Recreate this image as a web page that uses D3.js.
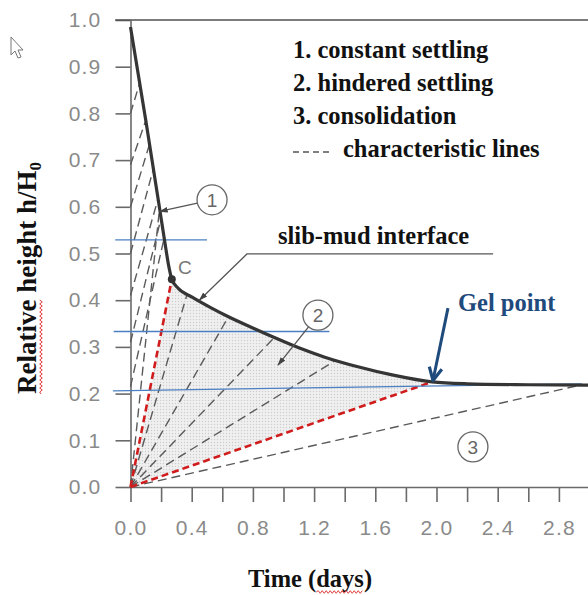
<!DOCTYPE html>
<html>
<head>
<meta charset="utf-8">
<script src="https://cdn.jsdelivr.net/npm/d3@7"></script>
<style>
	html, body { margin: 0; padding: 0; background: #fff; }
	svg { display: block; }
</style>
</head>
<body>
<div id="chart"></div>
<script>
// settling curve, relative height h/H0 against time in days
const curveT = [0, 0.10, 0.19, 0.225, 0.25, 0.27, 0.31, 0.40, 0.53, 0.64, 0.81, 0.94, 1.10, 1.27, 1.48, 1.71, 1.97, 2.2, 2.6, 3.0];
const curveH = [0.985, 0.785, 0.597, 0.523, 0.473, 0.445, 0.426, 0.407, 0.383, 0.3645, 0.339, 0.320, 0.298, 0.278, 0.258, 0.240, 0.225, 0.221, 0.219, 0.218];

// zone 1 characteristics: start height on the axis and end point on the curve
const zone1Start = [0.80, 0.69, 0.60, 0.50, 0.41, 0.31, 0.215, 0];
const zone1End = [[0.06, 0.865], [0.10, 0.785], [0.125, 0.735], [0.15, 0.682], [0.18, 0.617], [0.20, 0.576], [0.22, 0.533], [0.19, 0.597]];

// fan of characteristics from the origin (zone 2 and 3)
const fanEnd = [[0.37, 0.413], [0.64, 0.3645], [0.94, 0.320], [1.34, 0.271], [2.95, 0.219]];

// critical point C and gel point
const pointC = [0.27, 0.445];
const gelPoint = [1.97, 0.225];

// thin blue guide lines
const blueLines = [
	[[-0.10, 0.529], [0.50, 0.529]],
	[[-0.11, 0.333], [1.30, 0.333]],
	[[-0.115, 0.206], [2.95, 0.221]],
];

// axis ticks
const yTicks = [0, 0.1, 0.2, 0.3, 0.4, 0.5, 0.6, 0.7, 0.8, 0.9, 1.0];
const xTicks = [0, 0.2, 0.4, 0.6, 0.8, 1.0, 1.2, 1.4, 1.6, 1.8, 2.0, 2.2, 2.4, 2.6, 2.8];
const xTickLabels = [0, 0.4, 0.8, 1.2, 1.6, 2.0, 2.4, 2.8];

// circled zone numbers: [t, h] of the circle and [t, h] the leader points to
const zoneLabels = ["1", "2", "3"];
const zoneCenters = [[0.533, 0.615], [1.225, 0.368], [2.238, 0.086]];
const zoneTargets = [[0.19, 0.59], [0.964, 0.261], null];

// leader of the interface label
const interfaceLeader = [[2.37, 0.499], [0.761, 0.499], [0.45, 0.40]];
const gelArrow = [[2.075, 0.383], [1.977, 0.228]];

const legendItems = ["1. constant settling", "2. hindered settling", "3. consolidation", "characteristic lines"];

const WIDTH = 588;
const HEIGHT = 595;
const SERIF = "'Liberation Serif', 'Times New Roman', serif";
const SANS = "'Liberation Sans', Arial, sans-serif";

const x = d3.scaleLinear().domain([0, 3]).range([130.5, 589.5]);
const y = d3.scaleLinear().domain([0, 1]).range([487, 20]);

const svg = d3.select("#chart").append("svg")
	.attr("width", WIDTH)
	.attr("height", HEIGHT);

const defs = svg.append("defs");

// fine stipple used for the hindered settling zone
const pat = defs.append("pattern")
	.attr("id", "stipple")
	.attr("width", 3)
	.attr("height", 3)
	.attr("patternUnits", "userSpaceOnUse");
pat.append("rect").attr("width", 3).attr("height", 3).attr("fill", "#f0f0f0");
pat.append("circle").attr("cx", 1.5).attr("cy", 1.5).attr("r", 0.7).attr("fill", "#cdcdcd");

defs.append("marker")
	.attr("id", "tipGray")
	.attr("viewBox", "0 0 10 10")
	.attr("refX", 9)
	.attr("refY", 5)
	.attr("markerWidth", 9)
	.attr("markerHeight", 9)
	.attr("markerUnits", "userSpaceOnUse")
	.attr("orient", "auto")
	.append("path")
	.attr("d", "M0,1.8 L10,5 L0,8.2 z")
	.attr("fill", "#444");

defs.append("marker")
	.attr("id", "tipBlue")
	.attr("viewBox", "0 0 10 10")
	.attr("refX", 9)
	.attr("refY", 5)
	.attr("markerWidth", 16)
	.attr("markerHeight", 16)
	.attr("markerUnits", "userSpaceOnUse")
	.attr("orient", "auto")
	.append("path")
	.attr("d", "M1,1 L9,5 L1,9")
	.attr("fill", "none")
	.attr("stroke", "#1f4a7c")
	.attr("stroke-width", 2)
	.attr("stroke-linejoin", "miter");

const curvePts = curveT.map((t, i) => [t, curveH[i]]);
const line = d3.line().x((d) => x(d[0])).y((d) => y(d[1]));
const smooth = d3.line().x((d) => x(d[0])).y((d) => y(d[1])).curve(d3.curveMonotoneX);

// shaded zone 2: origin -> C -> along the curve -> gel point -> origin
const inner = [pointC].concat(curvePts.filter((d) => d[0] > pointC[0] && d[0] < gelPoint[0]), [gelPoint]);
svg.append("path")
	.attr("d", `M${x(0)},${y(0)}L` + smooth(inner).slice(1) + "Z")
	.attr("fill", "url(#stipple)")
	.attr("stroke", "none");

// axes
const yAxis = svg.append("g")
	.attr("transform", `translate(${x(0)},0)`)
	.call(d3.axisLeft(y).tickValues(yTicks).tickSize(15).tickSizeOuter(0).tickPadding(14).tickFormat(d3.format(".1f")));

const xAxis = svg.append("g")
	.attr("transform", `translate(0,${y(0)})`)
	.call(d3.axisBottom(x).tickValues(xTicks).tickSize(15).tickSizeOuter(0).tickPadding(18)
		.tickFormat((d) => (xTickLabels.some((v) => Math.abs(v - d) < 1e-9) ? d3.format(".1f")(d) : "")));

[yAxis, xAxis].forEach((ax) => {
	ax.select(".domain").attr("stroke", "#6a6a6a").attr("stroke-width", 1.6);
	ax.selectAll(".tick line").attr("stroke", "#6a6a6a").attr("stroke-width", 1.6);
	ax.selectAll(".tick text")
		.attr("fill", "#8a8a8a")
		.style("font-family", SANS)
		.style("font-size", "21px")
		.style("letter-spacing", "1.2px");
});

// frame line at h = 1
svg.append("line")
	.attr("x1", x(-0.1))
	.attr("x2", x(3))
	.attr("y1", y(1))
	.attr("y2", y(1))
	.attr("stroke", "#505050")
	.attr("stroke-width", 1.6);

// gray dashed characteristic lines
const dashed = svg.append("g")
	.attr("fill", "none")
	.attr("stroke", "#5a5a5a")
	.attr("stroke-width", 1.4)
	.attr("stroke-dasharray", "9,5");

zone1Start.forEach((h0, i) => {
	dashed.append("path").attr("d", line([[0, h0], zone1End[i]]));
});
fanEnd.forEach((p) => {
	dashed.append("path").attr("d", line([[0, 0], p]));
});

// red dashed bounds of zone 2
svg.append("g")
	.attr("fill", "none")
	.attr("stroke", "#d01c1c")
	.attr("stroke-width", 2.6)
	.attr("stroke-dasharray", "7,4")
	.selectAll("path")
	.data([pointC, gelPoint])
	.join("path")
	.attr("d", (p) => line([[0, 0], p]));

// blue guide lines
svg.append("g")
	.selectAll("path")
	.data(blueLines)
	.join("path")
	.attr("d", (d) => line(d))
	.attr("fill", "none")
	.attr("stroke", "#4a7fc1")
	.attr("stroke-width", 1.3);

// settling curve
svg.append("path")
	.attr("d", smooth(curvePts))
	.attr("fill", "none")
	.attr("stroke", "#353535")
	.attr("stroke-width", 3.2)
	.attr("stroke-linejoin", "round");

svg.append("circle")
	.attr("cx", x(pointC[0]))
	.attr("cy", y(pointC[1]))
	.attr("r", 4)
	.attr("fill", "#333");

svg.append("text")
	.attr("x", x(0.356))
	.attr("y", y(0.456))
	.attr("text-anchor", "middle")
	.attr("fill", "#777")
	.style("font-family", SANS)
	.style("font-size", "19px")
	.text("C");

// circled zone numbers with their leaders
const R = 15;
zoneLabels.forEach((lab, i) => {
	const cx = x(zoneCenters[i][0]);
	const cy = y(zoneCenters[i][1]);
	const tgt = zoneTargets[i];
	if (tgt) {
		const tx = x(tgt[0]);
		const ty = y(tgt[1]);
		const len = Math.hypot(tx - cx, ty - cy);
		svg.append("line")
			.attr("x1", cx + ((tx - cx) / len) * R)
			.attr("y1", cy + ((ty - cy) / len) * R)
			.attr("x2", tx)
			.attr("y2", ty)
			.attr("stroke", "#555")
			.attr("stroke-width", 1.3)
			.attr("marker-end", "url(#tipGray)");
	}
	svg.append("circle")
		.attr("cx", cx)
		.attr("cy", cy)
		.attr("r", R)
		.attr("fill", "#fff")
		.attr("stroke", "#666")
		.attr("stroke-width", 1.3);
	svg.append("text")
		.attr("x", cx)
		.attr("y", cy + 7)
		.attr("text-anchor", "middle")
		.attr("fill", "#666")
		.style("font-family", SANS)
		.style("font-size", "19px")
		.text(lab);
});

// interface label and leader
svg.append("path")
	.attr("d", line(interfaceLeader))
	.attr("fill", "none")
	.attr("stroke", "#555")
	.attr("stroke-width", 1.3)
	.attr("marker-end", "url(#tipGray)");

svg.append("text")
	.attr("x", 278)
	.attr("y", 244)
	.attr("fill", "#111")
	.style("font-family", SERIF)
	.style("font-weight", "bold")
	.style("font-size", "24.5px")
	.text("slib-mud interface");

// gel point label and arrow
svg.append("path")
	.attr("d", line(gelArrow))
	.attr("fill", "none")
	.attr("stroke", "#1f4a7c")
	.attr("stroke-width", 3)
	.attr("marker-end", "url(#tipBlue)");

svg.append("text")
	.attr("x", 458)
	.attr("y", 311)
	.attr("fill", "#1f4a7c")
	.style("font-family", SERIF)
	.style("font-weight", "bold")
	.style("font-size", "24.5px")
	.text("Gel point");

// legend
const legend = svg.append("g")
	.style("font-family", SERIF)
	.style("font-weight", "bold")
	.style("font-size", "24.5px")
	.attr("fill", "#111");

legendItems.forEach((txt, i) => {
	const last = i === legendItems.length - 1;
	legend.append("text")
		.attr("x", last ? 343 : 293)
		.attr("y", 58 + i * 33)
		.text(txt);
});
legend.append("line")
	.attr("x1", 293)
	.attr("x2", 331)
	.attr("y1", 152)
	.attr("y2", 152)
	.attr("stroke", "#555")
	.attr("stroke-width", 1.6)
	.attr("stroke-dasharray", "6,4");

// axis titles
const yTitle = svg.append("g").attr("transform", "translate(36,278) rotate(-90)");
const yText = yTitle.append("text")
	.attr("text-anchor", "middle")
	.attr("fill", "#111")
	.style("font-family", SERIF)
	.style("font-weight", "bold")
	.style("font-size", "27px");
yText.append("tspan").text("Relative height h/H");
yText.append("tspan").attr("dy", 5).style("font-size", "17px").text("0");

const xTitle = svg.append("text")
	.attr("x", 310)
	.attr("y", 587)
	.attr("text-anchor", "middle")
	.attr("fill", "#111")
	.style("font-family", SERIF)
	.style("font-weight", "bold")
	.style("font-size", "24.5px")
	.text("Time (days)");

// red spell-check squiggles under "Relative" and "days"
function squiggle(g, x0, x1, yy) {
	let d = `M${x0},${yy}`;
	let up = true;
	for (let xx = x0 + 2; xx <= x1; xx += 2) {
		d += `L${xx},${yy + (up ? -1.3 : 1.3)}`;
		up = !up;
	}
	g.append("path").attr("d", d).attr("fill", "none").attr("stroke", "#e03c3c").attr("stroke-width", 1);
}
try {
	const total = yText.node().getComputedTextLength();
	const relLen = yText.node().getSubStringLength(0, 8);
	squiggle(yTitle, -total / 2, -total / 2 + relLen, 5);
	const xt = xTitle.node();
	const tLen = xt.getComputedTextLength();
	const start = 310 - tLen / 2 + xt.getSubStringLength(0, 6);
	squiggle(svg, start, start + xt.getSubStringLength(6, 4), 592);
} catch (e) {}

// mouse pointer left on the screenshot
svg.append("path")
	.attr("d", "M11,37 L11,55 L15,51 L18,58 L21,57 L18,50 L23,50 Z")
	.attr("fill", "#fff")
	.attr("stroke", "#777")
	.attr("stroke-width", 1);
</script>
</body>
</html>
